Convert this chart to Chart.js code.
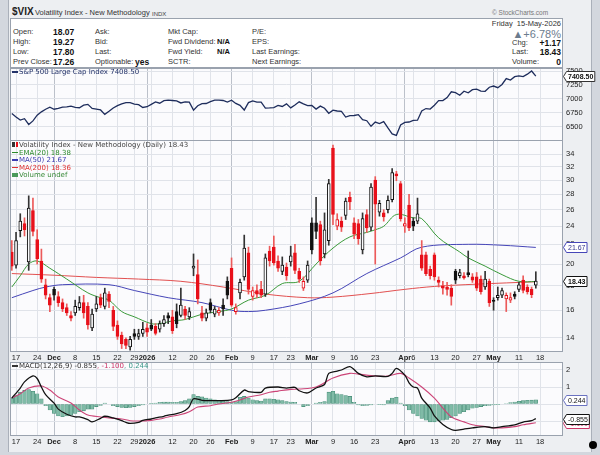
<!DOCTYPE html>
<html>
<head>
<meta charset="utf-8">
<script src="https://cdn.jsdelivr.net/npm/chart.js@4.4.1/dist/chart.umd.min.js"></script>
<style>
  html, body { margin: 0; padding: 0; }
  body { width: 600px; height: 455px; background: #d3d7de; position: relative; overflow: hidden;
         font-family: "Liberation Sans", Arial, sans-serif; color: #222; }
  #frame { position: absolute; left: 8px; top: 0; width: 584px; height: 452px; background: #edeff2;
           border-left: 1px solid #aab0ba; border-right: 1px solid #aab0ba; box-sizing: border-box; }
  .t { position: absolute; white-space: nowrap; line-height: 10px; }
  #info { position: absolute; left: 10px; top: 18px; width: 553px; height: 50px; background: #fff;
          border: 1px solid #9aa2ae; box-sizing: border-box; }
  .lb { font-size: 7.5px; color: #333; }
  .vb { font-size: 8.5px; font-weight: bold; color: #111; }
  canvas { position: absolute; left: 0; }
  .leg { position: absolute; left: 12px; font: 7px "DejaVu Sans", Verdana, sans-serif; line-height: 7.5px; white-space: nowrap; }
  .dash { display: inline-block; width: 6px; height: 1.5px; vertical-align: middle; margin-right: 1px; }
  #dot { position: absolute; left: 589px; top: 441px; width: 8px; height: 8px; border-radius: 50%; background: #000; }
</style>
</head>
<body>
<div id="frame"></div>

<div class="t" style="left:12px;top:7px;font-weight:bold;font-size:10px;">$VIX</div>
<div class="t" style="left:35px;top:8px;font-size:7.5px;color:#333;">Volatility Index - New Methodology</div>
<div class="t" style="left:152px;top:9px;font-size:6px;color:#444;">INDX</div>
<div class="t" style="left:492px;top:8px;font-size:6.5px;color:#777;">© StockCharts.com</div>

<div id="info"></div>
<div class="t lb" style="left:13px;top:27px;">Open:</div>
<div class="t lb" style="left:13px;top:37px;">High:</div>
<div class="t lb" style="left:13px;top:47px;">Low:</div>
<div class="t lb" style="left:13px;top:57px;">Prev Close:</div>
<div class="t vb" style="left:53px;top:27px;">18.07</div>
<div class="t vb" style="left:53px;top:37px;">19.27</div>
<div class="t vb" style="left:53px;top:47px;">17.80</div>
<div class="t vb" style="left:53px;top:57px;">17.26</div>
<div class="t lb" style="left:95px;top:27px;">Ask:</div>
<div class="t lb" style="left:95px;top:37px;">Bid:</div>
<div class="t lb" style="left:95px;top:47px;">Last:</div>
<div class="t lb" style="left:95px;top:57px;">Optionable:</div>
<div class="t vb" style="left:135px;top:57px;">yes</div>
<div class="t lb" style="left:168px;top:27px;">Mkt Cap:</div>
<div class="t lb" style="left:168px;top:37px;">Fwd Dividend:</div>
<div class="t lb" style="left:168px;top:47px;">Fwd Yield:</div>
<div class="t lb" style="left:168px;top:57px;">SCTR:</div>
<div class="t vb" style="left:217px;top:37px;font-size:7.5px;">N/A</div>
<div class="t vb" style="left:217px;top:47px;font-size:7.5px;">N/A</div>
<div class="t lb" style="left:252px;top:27px;">P/E:</div>
<div class="t lb" style="left:252px;top:37px;">EPS:</div>
<div class="t lb" style="left:252px;top:47px;">Last Earnings:</div>
<div class="t lb" style="left:252px;top:57px;">Next Earnings:</div>
<div class="t lb" style="right:39px;top:19px;">Friday&nbsp; 15-May-2026</div>
<div class="t" style="right:39px;top:28px;font-size:11px;line-height:12px;color:#6c7c8e;">▲+6.78%</div>
<div class="t lb" style="left:512px;top:38px;">Chg:</div>
<div class="t lb" style="left:512px;top:47px;">Last:</div>
<div class="t lb" style="left:512px;top:57px;">Volume:</div>
<div class="t vb" style="right:39px;top:38px;">+1.17</div>
<div class="t vb" style="right:39px;top:47px;">18.43</div>
<div class="t vb" style="right:39px;top:57px;">0</div>

<canvas id="spx" width="600" height="88" style="top:60px"></canvas>
<canvas id="vix" width="600" height="232" style="top:132px"></canvas>
<canvas id="macd" width="600" height="100" style="top:354px"></canvas>

<div class="leg" style="top:69px;color:#24336a;"><span class="dash" style="background:#24336a"></span>S&amp;P 500 Large Cap Index <span id="spxLast"></span></div>
<div class="leg" style="top:142px;">
  <div style="color:#444"><span style="display:inline-block;width:3px;height:5px;background:#333;margin-right:1px"></span><span style="display:inline-block;width:2px;height:5px;background:#e8101a;margin-right:1px"></span>Volatility Index - New Methodology (Daily) <span id="vixLast"></span></div>
  <div style="color:#2b8a2b"><span class="dash" style="background:#2b8a2b"></span>EMA(20) <span id="emaLast"></span></div>
  <div style="color:#3c3cb0"><span class="dash" style="background:#3c3cb0"></span>MA(50) <span id="ma50Last"></span></div>
  <div style="color:#e03030"><span class="dash" style="background:#e03030"></span>MA(200) <span id="ma200Last"></span></div>
  <div style="color:#3a8a3a"><span style="display:inline-block;width:6px;height:4px;background:#4a9a5a;margin-right:1px"></span>Volume undef</div>
</div>
<div class="leg" style="top:363px;color:#333;"><span class="dash" style="background:#333"></span>MACD(12,26,9) <span id="macdLast"></span><span style="color:#cc3366">, <span id="sigLast"></span></span><span style="color:#3a9a8a">, <span id="histLast"></span></span></div>
<div id="dot"></div>

<script>
// ---- data ----
const closeBefore = 20.0; // close of the day before the first candle

const openV = [21.2,19.9,23.5,24.3,20.2,25.9,22.5,20.3,18.1,17.0,17.7,17.1,16.6,16.2,15.6,15.8,16.2,16.6,16.3,14.7,
  16.1,17.0,16.3,17.3,16.0,14.9,14.2,13.9,13.4,14.3,14.1,14.3,14.7,14.9,14.8,14.6,15.0,15.6,15.5,15.9,
  15.6,16.1,15.5,19.6,19.0,15.8,15.4,16.6,15.7,15.8,16.4,18.4,19.6,15.9,17.4,18.8,21.1,17.1,17.6,17.7,
  17.3,21.3,21.7,20.3,19.3,19.7,20.2,21.1,19.3,17.8,18.5,24.4,24.4,24.2,21.0,22.4,35.0,24.0,24.6,25.3,
  27.6,24.4,24.3,21.4,25.4,23.9,30.0,25.7,25.6,26.0,27.3,30.9,29.5,24.0,26.6,24.6,24.6,20.9,20.9,19.5,
  20.9,18.5,18.0,17.9,17.8,19.3,18.9,18.9,19.2,18.8,18.8,18.6,17.9,18.4,16.8,17.0,17.2,16.9,16.8,17.3,
  17.7,18.5,17.9,17.7,18.07];
const highV = [22.4,23.3,25.5,25.0,27.8,27.5,23.6,21.5,18.6,17.3,17.9,17.5,16.9,16.5,15.9,16.8,17.1,17.2,16.6,16.1,
  17.1,17.3,17.8,17.5,16.3,15.2,14.4,14.0,14.1,14.6,14.6,15.1,15.0,15.3,15.0,15.2,15.6,15.8,16.0,16.5,
  17.8,16.3,16.2,21.0,20.4,16.3,16.1,16.9,16.3,16.2,16.9,18.8,20.6,16.5,18.6,23.0,21.7,17.9,18.1,18.4,
  21.0,21.8,22.9,20.8,20.7,20.1,21.8,22.0,19.6,18.8,20.3,25.0,27.6,24.6,25.6,30.1,35.5,25.5,25.1,27.5,
  28.3,25.0,24.8,25.6,26.0,29.5,30.5,27.2,26.0,27.8,31.7,31.3,29.8,25.0,28.0,25.0,27.5,22.4,21.2,19.8,
  21.1,18.8,18.4,18.3,18.1,19.5,19.5,19.2,21.3,19.1,19.2,18.9,19.3,18.6,17.0,17.9,17.8,17.4,17.4,17.5,
  18.3,18.9,18.1,17.9,19.27];
const lowV = [19.4,19.6,22.8,22.9,19.4,22.9,20.0,18.3,16.9,15.9,16.8,16.3,15.9,15.6,15.2,15.6,16.0,15.4,14.6,14.5,
  15.9,16.2,16.1,16.2,14.5,13.9,13.3,13.3,13.2,13.9,13.9,14.1,14.1,14.5,14.2,14.4,14.8,15.0,14.3,14.7,
  15.5,15.3,15.3,18.9,16.5,15.2,15.2,15.8,15.5,15.6,15.6,16.9,16.3,15.7,16.9,18.5,17.3,16.8,17.0,17.0,
  17.1,19.8,19.9,19.3,19.0,18.5,19.8,19.1,18.3,17.6,18.3,21.0,22.6,19.9,20.6,21.9,24.2,23.6,23.4,24.8,
  26.0,22.6,22.0,21.0,23.3,23.5,20.0,25.2,24.6,25.6,27.0,29.9,24.6,23.3,23.5,23.5,24.3,19.4,18.9,18.6,
  18.5,17.9,17.3,17.2,16.4,18.2,18.7,18.6,18.8,18.3,17.6,17.3,17.7,16.3,16.0,16.8,17.0,15.9,16.6,16.9,
  17.5,17.4,17.3,17.0,17.80];
const closeV = [19.8,22.4,24.6,23.6,26.2,23.4,20.5,18.6,17.2,16.4,17.2,16.6,16.1,15.8,15.4,16.3,16.6,15.8,14.9,15.7,
  16.5,16.4,17.4,16.7,14.8,14.1,13.6,13.5,13.9,14.1,14.3,14.6,14.4,14.6,14.3,15.0,15.3,15.4,14.5,15.0,
  16.4,15.6,15.9,19.8,16.9,15.4,15.8,16.0,16.1,16.0,16.1,17.2,16.4,16.2,18.3,21.6,17.7,17.6,17.3,17.2,
  20.6,20.3,20.1,19.6,19.9,18.9,20.8,19.4,18.6,18.4,19.9,21.4,23.4,20.3,23.6,29.5,25.4,24.8,23.9,27.1,
  27.0,23.1,22.6,24.9,23.8,29.0,26.7,26.8,25.1,27.2,31.1,30.6,24.9,24.3,23.8,24.0,25.5,19.6,19.1,18.9,
  18.8,18.3,17.8,17.7,17.1,18.5,19.2,18.7,19.0,18.5,17.8,17.5,18.6,16.6,16.7,17.2,17.6,17.2,17.0,17.1,
  18.1,17.6,17.5,17.26,18.43];

const spxClose = [6734,6672,6617,6642,6538,6603,6705,6766,6813,6849,6813,6829,6850,6857,6870,6846,6840,6886,6901,6827,
  6816,6800,6721,6775,6834,6878,6909,6932,6930,6905,6896,6845,6858,6900,6944,6921,6966,6977,6970,6963,
  6926,6944,6940,6797,6875,6914,6916,6950,6978,6978,6970,6940,6976,6917,6882,6798,6932,6964,6942,6941,
  6833,6836,6843,6881,6862,6909,6837,6890,6946,6908,6879,6881,6816,6869,6830,6740,6795,6781,6775,6672,
  6699,6700,6716,6625,6606,6506,6581,6556,6591,6477,6369,6343,6529,6575,6583,6611,6616,6783,6825,6816,
  6886,6968,6968,7022,7126,7110,7064,7137,7109,7165,7174,7138,7136,7209,7230,7200,7259,7365,7337,7399,
  7412,7401,7444,7501,7408.5];

const ema20Days = [0,2,4,6,9,13,18,21,23,26,29,33,35,38,41,45,49,52,56,60,64,68,72,76,80,84,86,88,91,95,97,101,106,108,112,116,120,124];
const ema20Vals = [17.9,18.9,20.0,20.3,19.6,18.6,17.4,17.0,16.8,15.9,15.5,15.0,15.0,15.2,15.3,15.7,15.9,16.1,16.8,17.2,18.2,18.4,20.0,21.6,22.8,23.3,23.6,24.0,25.4,25.0,24.9,22.7,21.2,20.6,19.8,19.0,18.4,18.38];
const ma50Days = [0,5,8,12,23,29,37,45,52,56,60,68,76,84,92,97,108,116,124];
const ma50Vals = [17.0,17.6,17.9,18.1,18.1,17.6,17.0,16.6,16.0,15.9,16.0,16.5,17.4,19.1,20.6,21.7,22.0,21.9,21.67];
const ma200Days = [0,10,20,30,40,50,60,70,76,85,93,100,110,124];
const ma200Vals = [19.1,18.95,18.75,18.6,18.4,17.9,17.3,17.0,17.05,17.35,17.7,17.95,18.15,18.36];

const macdDays = [0,2,3,5,6,7,8,10,11,13,15,16,18,19,21,22,24,26,27,28,30,31,33,34,36,37,39,41,42,43,45,47,49,52,53,55,56,59,60,63,65,67,68,70,72,74,75,77,78,80,82,84,86,89,90,91,93,94,95,96,97,99,100,102,104,105,107,109,112,114,116,119,121,123,124];
const macdVals = [0.35,0.94,1.3,1.65,1.5,1.0,0.55,0.05,-0.3,-0.6,-0.76,-0.76,-0.92,-1.05,-0.84,-0.72,-0.82,-0.98,-1.08,-1.14,-1.08,-0.96,-0.88,-0.82,-0.72,-0.65,-0.57,-0.38,-0.15,0.31,0.22,0.2,0.2,0.24,0.37,0.82,0.73,0.69,0.94,1.0,0.94,0.98,0.78,0.65,0.94,1.15,1.8,1.94,2.0,2.2,1.8,1.6,1.65,1.62,1.8,2.1,1.7,1.25,1.0,0.94,0.35,-0.24,-0.7,-1.2,-1.5,-1.55,-1.47,-1.4,-1.33,-1.4,-1.33,-1.22,-1.06,-0.98,-0.855];
const signalDays = [0,2,4,7,9,11,14,16,18,21,23,26,28,30,33,35,37,40,42,44,47,49,52,54,56,59,61,63,66,68,72,76,80,82,86,89,92,94,97,100,102,104,107,109,112,114,116,119,121,124];
const signalVals = [0.35,0.6,0.94,1.06,0.82,0.41,0.06,-0.35,-0.65,-0.76,-0.82,-0.88,-0.98,-1.0,-0.96,-0.88,-0.76,-0.62,-0.45,-0.18,-0.1,0.0,0.1,0.24,0.41,0.55,0.69,0.76,0.86,0.88,1.0,1.53,1.8,1.76,1.65,1.65,1.8,1.53,1.0,0.35,-0.24,-0.76,-1.05,-1.22,-1.33,-1.4,-1.4,-1.33,-1.22,-1.1];
const histVals = [0.35,0.5,0.7,0.8,0.85,0.75,0.6,0.3,-0.1,-0.35,-0.55,-0.7,-0.75,-0.7,-0.65,-0.55,-0.45,-0.4,-0.3,-0.3,
  -0.15,-0.08,0.05,0.0,-0.1,-0.15,-0.2,-0.22,-0.2,-0.15,-0.1,-0.05,0.0,0.02,0.05,0.1,0.12,0.12,0.1,0.1,
  0.15,0.2,0.3,0.55,0.45,0.42,0.35,0.3,0.25,0.2,0.18,0.15,0.12,0.15,0.4,0.45,0.35,0.25,0.2,0.18,
  0.3,0.3,0.28,0.25,0.2,0.15,0.12,0.1,0.0,-0.15,-0.1,0.0,0.05,0.1,0.15,0.7,0.75,0.6,0.55,0.5,
  0.45,0.1,-0.05,-0.1,-0.08,-0.05,0.0,-0.02,-0.05,0.2,0.35,0.4,0.05,-0.1,-0.35,-0.55,-0.7,-0.85,-0.95,-1.05,
  -1.05,-1.0,-0.95,-0.9,-0.8,-0.7,-0.55,-0.45,-0.35,-0.25,-0.2,-0.15,-0.1,-0.08,-0.05,-0.02,0.0,0.03,0.08,0.12,
  0.16,0.2,0.22,0.23,0.244];

// trading-day positions of the weekly grid lines and their labels
const tickDays = [1,6,10,15,20,25,29,32,33,38,43,47,52,57,62,66,71,76,81,86,91,93,95,100,105,110,114,115,120,125];
const tickLabels = ['17','24','Dec','8','15','22','29','2026','','12','20','26','Feb','9','17','23','Mar','9','16','23','','Apr','6','13','20','27','May','','11','18'];

const vixTicks = [14,16,18,20,22,24,26,28,30,32,34];
const spxTicks = [6500,6750,7000,7250,7500];
const macdTicks = [-1,0,1,2];

// ---- helpers ----
const RED = '#e8101a', BLACK = '#111', PLOT_BG = '#fbfbfd';
const last = a => a[a.length - 1];
const pts = (days, vals) => days.map((d, k) => ({ x: d, y: vals[k] }));
const isMonth = i => (tickLabels[i] || '').length > 2;
const upColor = i => closeV[i] < (i ? closeV[i - 1] : closeBefore) ? RED : BLACK;

document.getElementById('spxLast').textContent = last(spxClose).toFixed(2);
document.getElementById('vixLast').textContent = last(closeV).toFixed(2);
document.getElementById('emaLast').textContent = last(ema20Vals).toFixed(2);
document.getElementById('ma50Last').textContent = last(ma50Vals).toFixed(2);
document.getElementById('ma200Last').textContent = last(ma200Vals).toFixed(2);
document.getElementById('macdLast').textContent = last(macdVals).toFixed(3);
document.getElementById('sigLast').textContent = last(signalVals).toFixed(3);
document.getElementById('histLast').textContent = last(histVals).toFixed(3);

const panel = {
  id: 'panel',
  beforeDraw(chart) {
    const { ctx, chartArea: a } = chart;
    ctx.save();
    ctx.fillStyle = PLOT_BG;
    ctx.fillRect(a.left, a.top, a.right - a.left, a.bottom - a.top);
    ctx.restore();
  },
  afterDraw(chart) {
    const { ctx, chartArea: a } = chart;
    ctx.save();
    ctx.strokeStyle = '#9aa2ae';
    ctx.lineWidth = 1;
    ctx.strokeRect(Math.round(a.left) + 0.5, Math.round(a.top) + 0.5, Math.round(a.right - a.left) - 1, Math.round(a.bottom - a.top) - 1);
    ctx.restore();
  }
};

const tags = {
  id: 'tags',
  afterDraw(chart, args, opts) {
    const { ctx, chartArea, scales } = chart;
    (opts.items || []).forEach(t => {
      const y = Math.round(scales.y.getPixelForValue(t.value)) + 0.5;
      ctx.save();
      ctx.font = (t.bold ? 'bold ' : '') + '7px "Liberation Sans", Arial, sans-serif';
      const w = ctx.measureText(t.text).width + 3;
      const x0 = Math.round(chartArea.right) + 0.5;
      ctx.beginPath();
      ctx.moveTo(x0, y);
      ctx.lineTo(x0 + 3, y - 5);
      ctx.lineTo(x0 + 3 + w, y - 5);
      ctx.lineTo(x0 + 3 + w, y + 5);
      ctx.lineTo(x0 + 3, y + 5);
      ctx.closePath();
      ctx.fillStyle = '#fff';
      ctx.fill();
      ctx.strokeStyle = t.color;
      ctx.lineWidth = 1;
      ctx.stroke();
      ctx.fillStyle = t.textColor || '#111';
      ctx.textBaseline = 'middle';
      ctx.fillText(t.text, x0 + 4.5, y + 0.5);
      ctx.restore();
    });
  }
};

function xAxis(showLabels) {
  return {
    type: 'linear', min: -0.43, max: 130.43, offset: false,
    afterBuildTicks: s => { s.ticks = tickDays.map(v => ({ value: v })); },
    afterFit: s => { s.height = showLabels ? 12 : 0; },
    ticks: {
      display: showLabels, autoSkip: false, maxRotation: 0, padding: 1, color: '#222',
      font: c => ({ family: 'Liberation Sans', size: 7.5, weight: isMonth(c.index) ? 'bold' : 'normal' }),
      callback: (v, i) => tickLabels[i]
    },
    grid: { offset: false, drawTicks: false, color: c => isMonth(c.index) ? '#bcc1ca' : '#e0e3e9' },
    border: { display: false }
  };
}

function yAxis(extra) {
  return Object.assign({
    position: 'right',
    afterFit: s => { s.width = 37; },
    ticks: { padding: 3, color: '#222', font: { family: 'Liberation Sans', size: 7.5 }, callback: v => String(v) },
    grid: { drawTicks: false, color: '#e0e3e9' },
    border: { display: false }
  }, extra);
}

const common = (pad, tagItems) => ({
  responsive: false, animation: false, events: [],
  layout: { padding: pad },
  plugins: { legend: { display: false }, tooltip: { enabled: false }, tags: { items: tagItems } }
});

// ---- S&P 500 panel ----
new Chart(document.getElementById('spx'), {
  type: 'line',
  data: { datasets: [{
    data: spxClose.map((v, i) => ({ x: i, y: v })),
    borderColor: '#1e2d5c', borderWidth: 1.3, pointRadius: 0, tension: 0
  }] },
  options: Object.assign(common({ left: 10, top: 8, bottom: 7, right: 0 },
    [{ value: last(spxClose), text: last(spxClose).toFixed(2), color: '#333', bold: true }]), {
    scales: {
      x: xAxis(false),
      y: yAxis({ min: 6250, max: 7555, afterBuildTicks: s => { s.ticks = spxTicks.map(v => ({ value: v })); } })
    }
  }),
  plugins: [panel, tags]
});

// ---- VIX candles ----
const idx = closeV.map((v, i) => i);
new Chart(document.getElementById('vix'), {
  type: 'bar',
  data: { datasets: [
    { type: 'line', data: pts(ma200Days, ma200Vals), borderColor: '#e25050', borderWidth: 1, pointRadius: 0, tension: 0.35, order: 6 },
    { type: 'line', data: pts(ma50Days, ma50Vals), borderColor: '#4646b8', borderWidth: 1, pointRadius: 0, tension: 0.35, order: 5 },
    { type: 'line', data: pts(ema20Days, ema20Vals), borderColor: '#3a9a3a', borderWidth: 1, pointRadius: 0, tension: 0.35, order: 4 },
    { data: idx.map(i => ({ x: i, y: [lowV[i], highV[i]] })), grouped: false, barThickness: 1, order: 2,
      backgroundColor: c => upColor(c.dataIndex) === RED ? '#ec5a5a' : '#333' },
    { data: idx.map(i => ({ x: i, y: [openV[i], closeV[i]] })), grouped: false, barThickness: 3, order: 1,
      minBarLength: 1, borderWidth: 1, borderSkipped: false,
      borderColor: c => upColor(c.dataIndex),
      backgroundColor: c => closeV[c.dataIndex] > openV[c.dataIndex] ? PLOT_BG : upColor(c.dataIndex) }
  ] },
  options: Object.assign(common({ left: 10, top: 8, bottom: 0, right: 0 }, [
    { value: last(ma50Vals), text: last(ma50Vals).toFixed(2), color: '#4646b8', textColor: '#33338a' },
    { value: last(closeV), text: last(closeV).toFixed(2), color: '#111', bold: true }
  ]), {
    scales: {
      x: xAxis(true),
      y: yAxis({ type: 'logarithmic', min: 13.08, max: 36.4,
        afterBuildTicks: s => { s.ticks = vixTicks.map(v => ({ value: v })); } })
    }
  }),
  plugins: [panel, tags]
});

// ---- MACD ----
new Chart(document.getElementById('macd'), {
  type: 'bar',
  data: { datasets: [
    { type: 'line', data: pts(macdDays, macdVals), borderColor: '#111', borderWidth: 1.3, pointRadius: 0, tension: 0.3, order: 1 },
    { type: 'line', data: pts(signalDays, signalVals), borderColor: '#cc4477', borderWidth: 1.1, pointRadius: 0, tension: 0.3, order: 2 },
    { data: histVals.map((v, i) => ({ x: i, y: v })), grouped: false, barThickness: 3.6, order: 3,
      backgroundColor: '#80bba7', borderColor: '#448b75', borderWidth: 0.6, borderSkipped: false }
  ] },
  options: Object.assign(common({ left: 10, top: 8, bottom: 6, right: 0 }, [
    { value: last(histVals), text: last(histVals).toFixed(3), color: '#6a72c0' },
    { value: last(signalVals), text: last(signalVals).toFixed(3), color: '#cc3366', textColor: '#cc3366' },
    { value: last(macdVals), text: last(macdVals).toFixed(3), color: '#111' }
  ]), {
    scales: {
      x: xAxis(true),
      y: yAxis({ min: -1.88, max: 2.47, beginAtZero: false,
        afterBuildTicks: s => { s.ticks = macdTicks.map(v => ({ value: v })); } })
    }
  }),
  plugins: [panel, tags]
});
</script>
</body>
</html>
